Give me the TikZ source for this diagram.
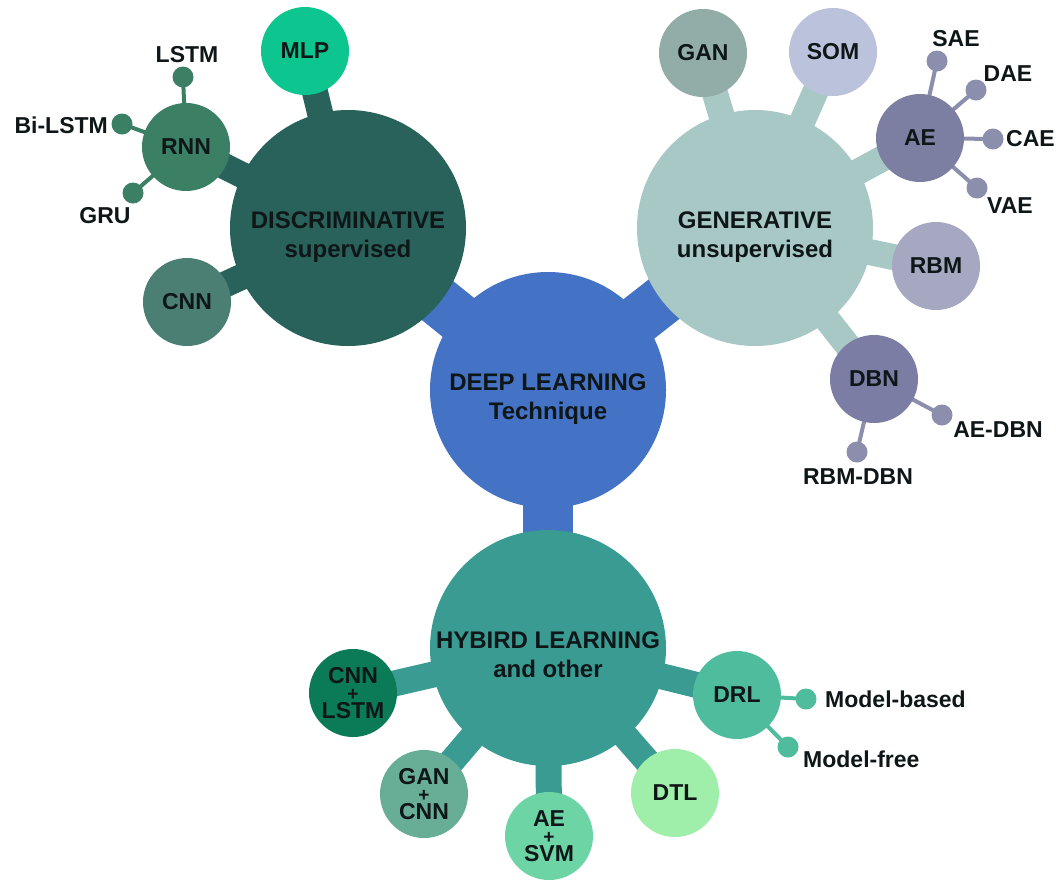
\documentclass[tikz,border=0pt]{standalone}
\usepackage{fontspec}
\setmainfont{Liberation Sans}
\usetikzlibrary{backgrounds}

% palette
\definecolor{inkc}{HTML}{0E1618}
\definecolor{dlc}{HTML}{4472C4}
\definecolor{discc}{HTML}{28625A}
\definecolor{mlpc}{HTML}{0DC68F}
\definecolor{rnnc}{HTML}{3B7F64}
\definecolor{cnndc}{HTML}{4B7F73}
\definecolor{genc}{HTML}{A8C8C5}
\definecolor{ganc}{HTML}{92ACA8}
\definecolor{somc}{HTML}{BBC2DC}
\definecolor{aec}{HTML}{7C7FA1}
\definecolor{rbmc}{HTML}{A5A8C0}
\definecolor{dbnc}{HTML}{7B7DA5}
\definecolor{tipgc}{HTML}{8B8EAD}
\definecolor{hybc}{HTML}{3A9B93}
\definecolor{clc}{HTML}{0A7B56}
\definecolor{gcc}{HTML}{68AD96}
\definecolor{asc}{HTML}{6DD5A5}
\definecolor{dtlc}{HTML}{9FEEAA}
\definecolor{drlc}{HTML}{4FBD9D}

% two-line hub caption, set a little below the circle centre
\newcommand{\hubcaption}[2]{\raisebox{-9pt}[\height][\depth]{%
  \begin{tabular}{@{}c@{}}#1\\#2\end{tabular}}}
% small plus sign between stacked model names
\newcommand{\plusrow}{{\fontsize{19}{17.5}\selectfont +}}

\tikzset{
  hub/.style={circle, inner sep=0pt, minimum size=236pt,
    text=inkc, font=\bfseries\fontsize{24}{29}\selectfont},
  sat/.style={circle, inner sep=0pt, minimum size=88pt, align=center,
    text=inkc, font=\bfseries\fontsize{23}{17.5}\selectfont},
  tipdot/.style={circle, inner sep=0pt, minimum size=21pt},
  leaf/.style={inner sep=0pt, text=inkc, font=\bfseries\fontsize{23}{27}\selectfont},
  trunk/.style={line width=50pt},
  branch/.style={line width=26pt},
  twig/.style={line width=4pt}
}

\begin{document}
\begin{tikzpicture}[x=1pt,y=-1pt]
\useasboundingbox (0,0) rectangle (1062,879);

% main hubs
\node[hub, fill=dlc]   (dl)   at (548,390) {\hubcaption{DEEP LEARNING}{Technique}};
\node[hub, fill=discc] (disc) at (348,228) {\hubcaption{DISCRIMINATIVE}{supervised}};
\node[hub, fill=genc]  (gen)  at (755,228) {\hubcaption{GENERATIVE}{unsupervised}};
\node[hub, fill=hybc]  (hyb)  at (548,648) {\hubcaption{HYBIRD LEARNING}{and other}};

% discriminative branch
\node[sat, fill=mlpc]  (mlp)  at (305,51)  {MLP};
\node[sat, fill=rnnc]  (rnn)  at (186,147) {RNN};
\node[sat, fill=cnndc] (cnnd) at (187,302) {CNN};

% generative branch
\node[sat, fill=ganc] (gan) at (703,53)  {GAN};
\node[sat, fill=somc] (som) at (833,52)  {SOM};
\node[sat, fill=aec]  (ae)  at (920,138) {AE};
\node[sat, fill=rbmc] (rbm) at (936,266) {RBM};
\node[sat, fill=dbnc] (dbn) at (874,379) {DBN};

% hybrid branch
\node[sat, fill=clc]  (cl)  at (353,693) {CNN\\\plusrow\\LSTM};
\node[sat, fill=gcc]  (gc)  at (424,794) {GAN\\\plusrow\\CNN};
\node[sat, fill=asc]  (as)  at (549,836) {AE\\\plusrow\\SVM};
\node[sat, fill=dtlc] (dtl) at (675,793) {DTL};
\node[sat, fill=drlc] (drl) at (737,695) {DRL};

% leaf dots
\node[tipdot, fill=rnnc] (lstmt)   at (183,77)  {};
\node[tipdot, fill=rnnc] (bilstmt) at (122,124) {};
\node[tipdot, fill=rnnc] (grut)    at (133,193) {};
\node[tipdot, fill=tipgc] (saet)   at (937,61)  {};
\node[tipdot, fill=tipgc] (daet)   at (976,90)  {};
\node[tipdot, fill=tipgc] (caet)   at (993,139) {};
\node[tipdot, fill=tipgc] (vaet)   at (977,188) {};
\node[tipdot, fill=tipgc] (aedbnt)  at (942,415) {};
\node[tipdot, fill=tipgc] (rbmdbnt) at (857,452) {};
\node[tipdot, fill=drlc] (mbt) at (806,699) {};
\node[tipdot, fill=drlc] (mft) at (788,747) {};

% leaf labels
\node[leaf] (lstml)   at (187,55)  {LSTM};
\node[leaf, anchor=east] (bilstml) at (108,125) {Bi-LSTM};
\node[leaf] (grul)    at (105,216) {GRU};
\node[leaf] (sael)    at (956,39)  {SAE};
\node[leaf] (dael)    at (1008,74) {DAE};
\node[leaf, anchor=west] (cael) at (1006,139) {CAE};
\node[leaf] (vael)    at (1010,206) {VAE};
\node[leaf] (aedbnl)  at (998,430) {AE-DBN};
\node[leaf] (rbmdbnl) at (858,477) {RBM-DBN};
\node[leaf, anchor=west] (mbl) at (825,699) {Model-based};
\node[leaf, anchor=west] (mfl) at (803,759) {Model-free};

% connectors behind the circles
\begin{scope}[on background layer]
  \draw[trunk, dlc] (dl.center) -- (disc.center);
  \draw[trunk, dlc] (dl.center) -- (gen.center);
  \draw[trunk, dlc] (dl.center) -- (hyb.center);

  \foreach \s in {mlp,rnn,cnnd}
    \draw[branch, discc] (disc.center) -- (\s.center);
  \foreach \s in {gan,som,ae,rbm,dbn}
    \draw[branch, genc] (gen.center) -- (\s.center);
  \foreach \s in {cl,gc,as,dtl,drl}
    \draw[branch, hybc] (hyb.center) -- (\s.center);

  \foreach \t in {lstmt,bilstmt,grut}
    \draw[twig, rnnc] (rnn.center) -- (\t.center);
  \foreach \t in {saet,daet,caet,vaet}
    \draw[twig, tipgc] (ae.center) -- (\t.center);
  \foreach \t in {aedbnt,rbmdbnt}
    \draw[twig, tipgc] (dbn.center) -- (\t.center);
  \foreach \t in {mbt,mft}
    \draw[twig, drlc] (drl.center) -- (\t.center);
\end{scope}
\end{tikzpicture}
\end{document}
